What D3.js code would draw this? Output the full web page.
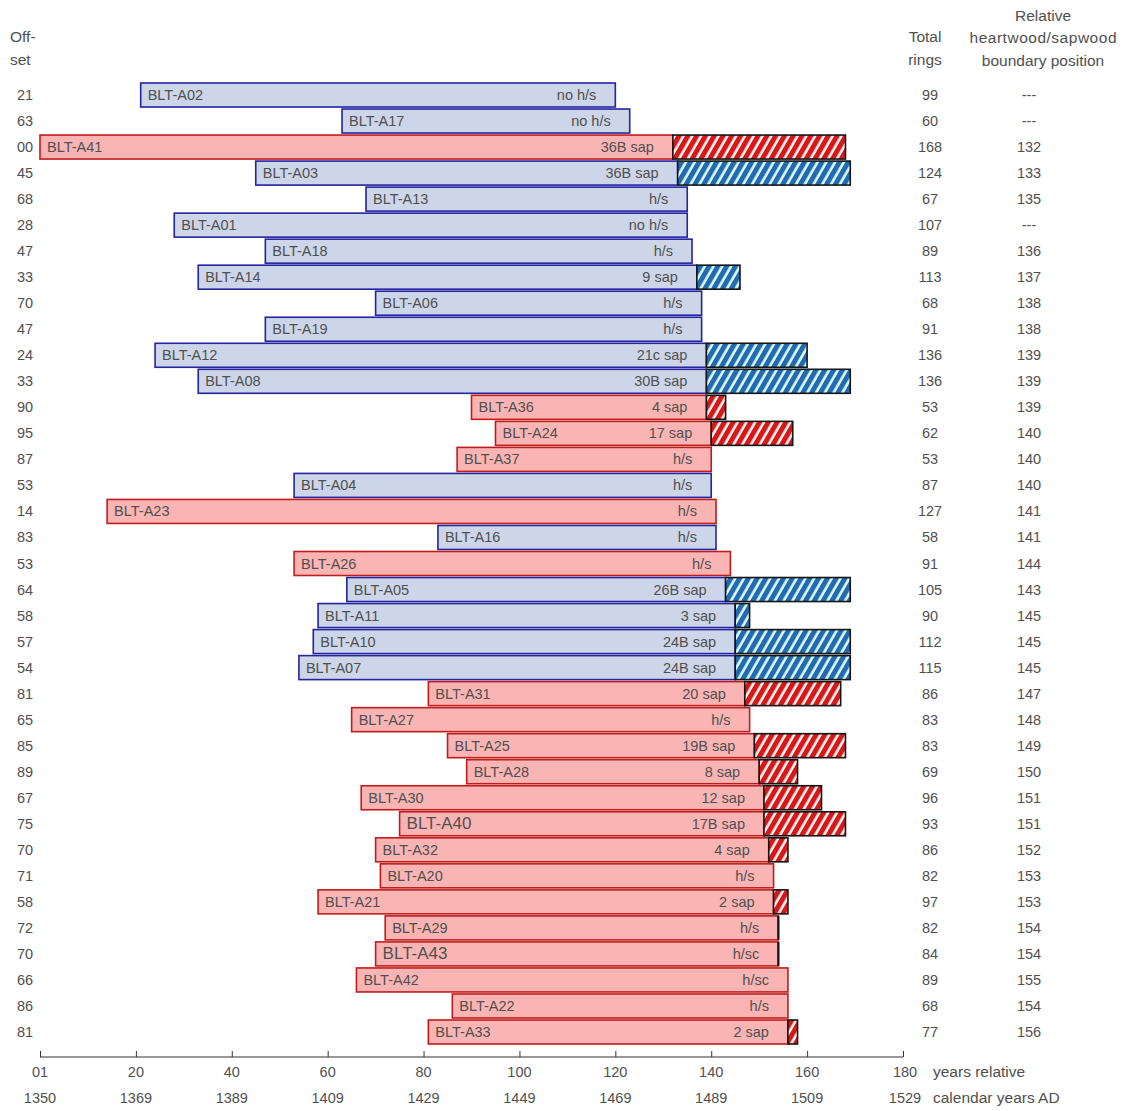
<!DOCTYPE html>
<html><head><meta charset="utf-8">
<script src="https://cdn.jsdelivr.net/npm/d3@7"></script>
<style>
html,body{margin:0;padding:0;background:#fff;}
text{font-family:"Liberation Sans",Arial,sans-serif;}
</style></head>
<body><svg id="c" width="1125" height="1111"></svg>
<script>
const names = ["BLT-A02","BLT-A17","BLT-A41","BLT-A03","BLT-A13","BLT-A01","BLT-A18","BLT-A14","BLT-A06","BLT-A19","BLT-A12","BLT-A08","BLT-A36","BLT-A24","BLT-A37","BLT-A04","BLT-A23","BLT-A16","BLT-A26","BLT-A05","BLT-A11","BLT-A10","BLT-A07","BLT-A31","BLT-A27","BLT-A25","BLT-A28","BLT-A30","BLT-A40","BLT-A32","BLT-A20","BLT-A21","BLT-A29","BLT-A43","BLT-A42","BLT-A22","BLT-A33"];
const offsets = [21,63,0,45,68,28,47,33,70,47,24,33,90,95,87,53,14,83,53,64,58,57,54,81,65,85,89,67,75,70,71,58,72,70,66,86,81];
const totalRings = [99,60,168,124,67,107,89,113,68,91,136,136,53,62,53,87,127,58,91,105,90,112,115,86,83,83,69,96,93,86,82,97,82,84,89,68,77];
const hsBoundary = [null,null,132,133,135,null,136,137,138,138,139,139,139,140,140,140,141,141,144,143,145,145,145,147,148,149,150,151,151,152,153,153,154,154,155,154,156];
// outer end of each drawn bar (relative year)
const barEnd = [120,123,168,169,135,135,136,146,138,138,160,169,143,157,140,140,141,141,144,169,148,169,169,167,148,168,158,163,168,156,153,156,154,154,156,156,158];
const notes = ["no h/s","no h/s","36B sap","36B sap","h/s","no h/s","h/s","9 sap","h/s","h/s","21c sap","30B sap","4 sap","17 sap","h/s","h/s","h/s","h/s","h/s","26B sap","3 sap","24B sap","24B sap","20 sap","h/s","19B sap","8 sap","12 sap","17B sap","4 sap","h/s","2 sap","h/s","h/sc","h/sc","h/s","2 sap"];
const groups = ["B","B","R","B","B","B","B","B","B","B","B","B","R","R","R","B","R","B","R","B","B","B","B","R","R","R","R","R","R","R","R","R","R","R","R","R","R"];
const closedEdge = ["BLT-A29","BLT-A43"];
const largeLabels = ["BLT-A40","BLT-A43"];
const relTicks = [0,20,40,60,80,100,120,140,160,180];
const relTickLabels = ["01","20","40","60","80","100","120","140","160","180"];
const calTickLabels = ["1350","1369","1389","1409","1429","1449","1469","1489","1509","1529"];

const rows = names.map((n,i)=>({
  name:n, offset:offsets[i], rings:totalRings[i], hs:hsBoundary[i],
  end:barEnd[i], note:notes[i], group:groups[i],
  hasSap: notes[i].includes("sap")
}));

const svg = d3.select("#c");
svg.append("rect").attr("width",1125).attr("height",1111).attr("fill","#fff");

const x = d3.scaleLinear().domain([0,180]).range([40,903]);
const y = d3.scalePoint().domain(names).range([95,1032]);
const barH = 24;
const col = {B:{fill:"#cdd5e8",stroke:"#2424a0",hatch:"#1f6db0",gap:"#e4fbff"},
             R:{fill:"#fab4b4",stroke:"#c01c1c",hatch:"#d61818",gap:"#fff4f4"}};
const txt = "#505050";
const fs = 14.5;

const defs = svg.append("defs");
["B","R"].forEach(g=>{
  const p = defs.append("pattern").attr("id","hatch"+g).attr("patternUnits","userSpaceOnUse")
    .attr("width",7.6).attr("height",10).attr("patternTransform","rotate(30)");
  p.append("rect").attr("width",7.6).attr("height",10).attr("fill",col[g].gap);
  p.append("rect").attr("width",5).attr("height",10).attr("fill",col[g].hatch);
});

// headers
const hdr = svg.append("g").attr("fill",txt).attr("font-size",15.5);
hdr.append("text").attr("x",10).attr("y",42).text("Off-");
hdr.append("text").attr("x",10).attr("y",65).text("set");
hdr.append("text").attr("x",925).attr("y",42).attr("text-anchor","middle").text("Total");
hdr.append("text").attr("x",925).attr("y",65).attr("text-anchor","middle").text("rings");
hdr.append("text").attr("x",1043).attr("y",21).attr("text-anchor","middle").text("Relative");
hdr.append("text").attr("x",1043).attr("y",43).attr("text-anchor","middle").attr("textLength",147).text("heartwood/sapwood");
hdr.append("text").attr("x",1043).attr("y",66).attr("text-anchor","middle").text("boundary position");

const fmt = d3.format("02d");
const g = svg.append("g");
rows.forEach(r=>{
  const cy = y(r.name);
  const c = col[r.group];
  const hEnd = r.hasSap ? r.hs : r.end;
  g.append("rect").attr("x",x(r.offset)).attr("y",cy-barH/2)
    .attr("width",x(hEnd)-x(r.offset)).attr("height",barH)
    .attr("fill",c.fill).attr("stroke",c.stroke).attr("stroke-width",1.6);
  if(r.hasSap){
    g.append("rect").attr("x",x(r.hs)).attr("y",cy-barH/2)
      .attr("width",x(r.end)-x(r.hs)).attr("height",barH)
      .attr("fill","url(#hatch"+r.group+")").attr("stroke","#151515").attr("stroke-width",1.6);
  }
  if(closedEdge.includes(r.name)){
    g.append("line").attr("x1",x(r.end)).attr("x2",x(r.end))
      .attr("y1",cy-barH/2).attr("y2",cy+barH/2).attr("stroke","#151515").attr("stroke-width",2.2);
  }
  const big = largeLabels.includes(r.name);
  g.append("text").attr("x",x(r.offset)+7).attr("y",cy+5)
    .attr("font-size",big?17:fs).attr("fill",txt).text(r.name);
  g.append("text").attr("x",x(hEnd)-19).attr("y",cy+5).attr("text-anchor","end")
    .attr("font-size",fs).attr("fill",txt).text(r.note);
  svg.append("text").attr("x",25).attr("y",cy+5).attr("text-anchor","middle")
    .attr("font-size",fs).attr("fill",txt).text(fmt(r.offset));
  svg.append("text").attr("x",930).attr("y",cy+5).attr("text-anchor","middle")
    .attr("font-size",fs).attr("fill",txt).text(r.rings);
  svg.append("text").attr("x",1029).attr("y",cy+5).attr("text-anchor","middle")
    .attr("font-size",fs).attr("fill",txt).text(r.hs==null?"---":r.hs);
});

// axis
const ax = svg.append("g").attr("transform","translate(0,1057)");
const axis = d3.axisTop(x).tickValues(relTicks).tickSize(6).tickFormat("");
ax.call(axis);
ax.select(".domain").attr("stroke","#333").attr("d",`M${x(0)},0H${x(180)}`);
ax.selectAll(".tick line").attr("stroke","#333");
const lab = svg.append("g").attr("fill",txt).attr("font-size",fs);
relTicks.forEach((t,i)=>{
  lab.append("text").attr("x",x(t)+(i==relTicks.length-1?2:0)).attr("y",1077).attr("text-anchor","middle").text(relTickLabels[i]);
  lab.append("text").attr("x",x(t)+(i==relTicks.length-1?2:0)).attr("y",1103).attr("text-anchor","middle").text(calTickLabels[i]);
});
lab.append("text").attr("x",933).attr("y",1077).attr("font-size",15.5).text("years relative");
lab.append("text").attr("x",933).attr("y",1103).attr("font-size",15.5).text("calendar years AD");
</script></body></html>
